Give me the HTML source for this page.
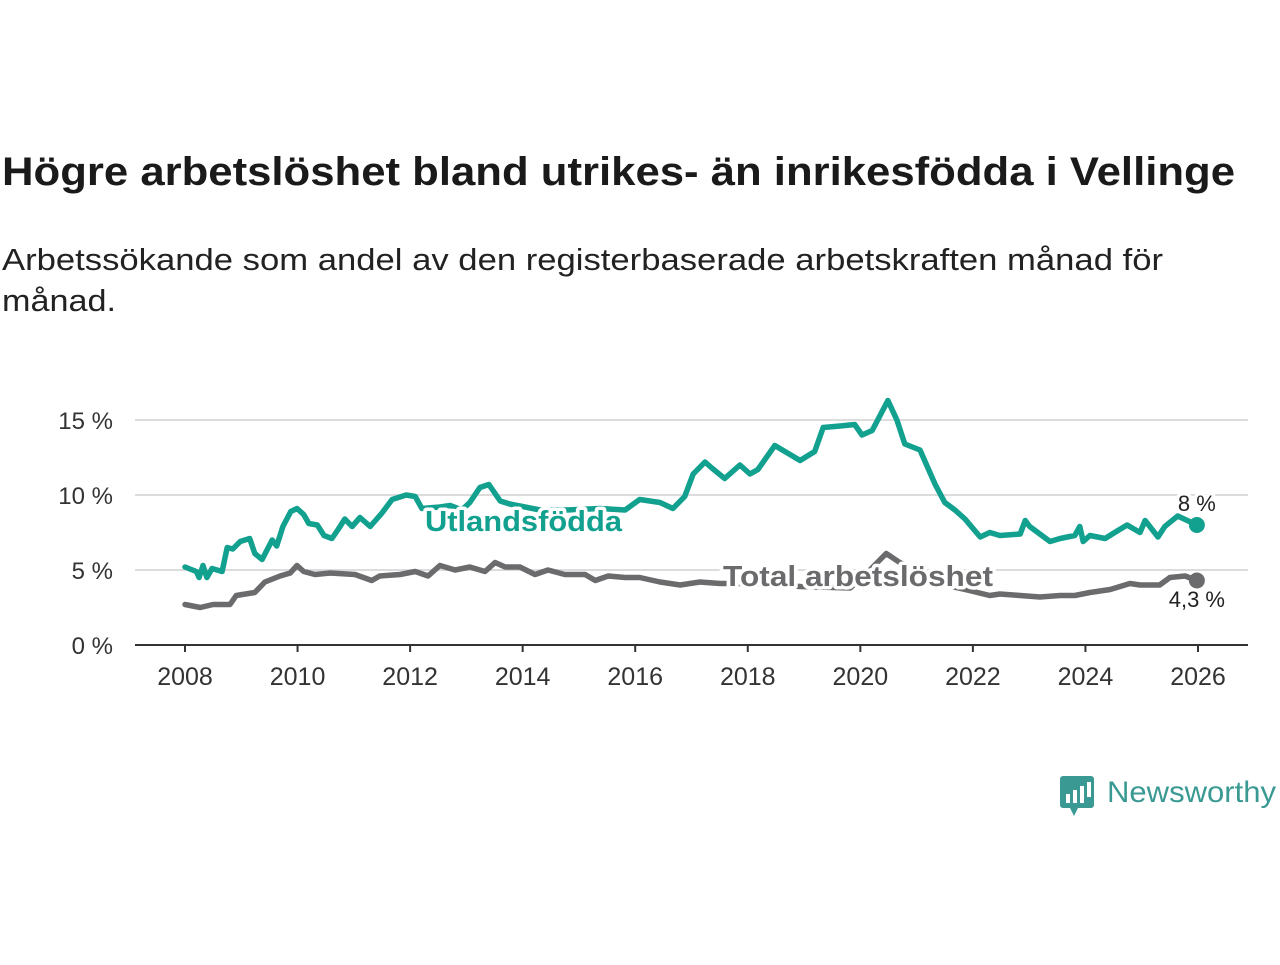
<!DOCTYPE html>
<html><head><meta charset="utf-8"><style>
body{margin:0;background:#fff;width:1280px;height:960px;overflow:hidden;font-family:"Liberation Sans",sans-serif}
</style></head><body>
<svg width="1280" height="960" font-family="Liberation Sans, sans-serif">
<text x="2" y="185" font-size="40" font-weight="bold" fill="#1a1a1a" textLength="1233" lengthAdjust="spacingAndGlyphs">Högre arbetslöshet bland utrikes- än inrikesfödda i Vellinge</text>
<text x="2" y="270" font-size="31" fill="#222" textLength="1161" lengthAdjust="spacingAndGlyphs">Arbetssökande som andel av den registerbaserade arbetskraften månad för</text>
<text x="2" y="311" font-size="31" fill="#222" textLength="114" lengthAdjust="spacingAndGlyphs">månad.</text>
<g id="grid"></g><g id="axes"></g><g id="lines"></g><g id="labels"></g>
<g>
<rect x="1060" y="776" width="34" height="32" rx="3" fill="#3a9a93"/>
<polygon points="1070,808 1078,808 1074,816" fill="#3a9a93"/>
<rect x="1066" y="794" width="4" height="9" fill="#fff"/><rect x="1073" y="790" width="4" height="13" fill="#fff"/><rect x="1080" y="786" width="4" height="17" fill="#fff"/><rect x="1087" y="782" width="4" height="15" fill="#fff"/>
<text x="1107" y="802" font-size="30" fill="#3a9a93" textLength="169" lengthAdjust="spacingAndGlyphs">Newsworthy</text>
</g>
</svg>
<script>
const utlYears=[2008.0,2008.2,2008.25,2008.32,2008.39,2008.48,2008.66,2008.75,2008.85,2008.98,2009.15,2009.24,2009.37,2009.55,2009.63,2009.74,2009.88,2009.99,2010.11,2010.2,2010.35,2010.47,2010.61,2010.72,2010.84,2010.97,2011.11,2011.29,2011.5,2011.68,2011.93,2012.09,2012.21,2012.53,2012.71,2012.92,2013.06,2013.24,2013.4,2013.6,2013.77,2014.31,2014.79,2015.37,2015.82,2016.08,2016.44,2016.67,2016.88,2017.03,2017.24,2017.36,2017.59,2017.86,2018.04,2018.18,2018.48,2018.75,2018.93,2019.19,2019.34,2019.64,2019.9,2020.03,2020.21,2020.49,2020.65,2020.79,2021.06,2021.33,2021.5,2021.68,2021.86,2022.13,2022.3,2022.48,2022.84,2022.93,2023.01,2023.37,2023.55,2023.81,2023.9,2023.96,2024.08,2024.35,2024.52,2024.74,2024.97,2025.06,2025.29,2025.41,2025.64,2025.98];
const utlValues=[5.2,4.9,4.5,5.3,4.5,5.1,4.9,6.5,6.4,6.9,7.1,6.1,5.7,7.0,6.6,7.9,8.9,9.1,8.7,8.1,8.0,7.3,7.1,7.7,8.4,7.9,8.5,7.9,8.8,9.7,10.0,9.9,9.1,9.2,9.3,9.0,9.5,10.5,10.7,9.6,9.4,9.0,9.0,9.1,9.0,9.7,9.5,9.1,9.9,11.4,12.2,11.8,11.1,12.0,11.4,11.7,13.3,12.7,12.3,12.9,14.5,14.6,14.7,14.0,14.3,16.3,15.0,13.4,13.0,10.7,9.5,9.0,8.4,7.2,7.5,7.3,7.4,8.3,7.9,6.9,7.1,7.3,7.9,6.9,7.3,7.1,7.5,8.0,7.5,8.3,7.2,7.9,8.6,8.0];
const totYears=[2008.0,2008.27,2008.5,2008.8,2008.91,2009.24,2009.42,2009.69,2009.87,2009.99,2010.11,2010.31,2010.58,2011.02,2011.32,2011.46,2011.82,2012.09,2012.32,2012.53,2012.8,2013.06,2013.33,2013.51,2013.69,2013.95,2014.22,2014.45,2014.75,2015.11,2015.29,2015.52,2015.82,2016.08,2016.44,2016.8,2017.15,2017.51,2018.04,2018.93,2019.82,2020.17,2020.46,2020.7,2021.06,2021.5,2021.86,2022.3,2022.48,2022.84,2023.19,2023.55,2023.81,2024.08,2024.44,2024.79,2024.97,2025.32,2025.5,2025.77,2025.98];
const totValues=[2.7,2.5,2.7,2.7,3.3,3.5,4.2,4.6,4.8,5.3,4.9,4.7,4.8,4.7,4.3,4.6,4.7,4.9,4.6,5.3,5.0,5.2,4.9,5.5,5.2,5.2,4.7,5.0,4.7,4.7,4.3,4.6,4.5,4.5,4.2,4.0,4.2,4.1,4.1,3.9,3.8,5.0,6.1,5.5,4.8,4.0,3.7,3.3,3.4,3.3,3.2,3.3,3.3,3.5,3.7,4.1,4.0,4.0,4.5,4.6,4.3];
const yTicks=[0,5,10,15];
const yTickLabels=["0 %","5 %","10 %","15 %"];
const xTicks=[2008,2010,2012,2014,2016,2018,2020,2022,2024,2026];
const NS='http://www.w3.org/2000/svg';
const X=y=>185+(y-2008)*(1198-185)/18;
const Y=v=>645-v*15;
function mk(tag,attrs,parent,text){const e=document.createElementNS(NS,tag);for(const k in attrs)e.setAttribute(k,attrs[k]);if(text!=null)e.textContent=text;document.getElementById(parent).appendChild(e);return e;}
yTicks.forEach((t,i)=>{
 if(t>0){const g=mk('line',{x1:135,x2:1248,y1:Y(t),y2:Y(t),stroke:'#dcdcdc','stroke-width':2},'grid');
 
 }
 const l=mk('text',{x:113,y:Y(t)+9,'text-anchor':'end','font-size':24,fill:'#333'},'axes',yTickLabels[i]);
 
 
});
const ax=mk('line',{x1:135,x2:1248,y1:645,y2:645,stroke:'#333','stroke-width':2},'axes');


xTicks.forEach(t=>{
 const tk=mk('line',{x1:X(t),x2:X(t),y1:645,y2:652,stroke:'#333','stroke-width':2},'axes');
 
 
 const l=mk('text',{x:X(t),y:685,'text-anchor':'middle','font-size':25,fill:'#333'},'axes',String(t));
 
 
});
function line(xs,vs,color,name){
 const d=xs.map((x,i)=>(i?'L':'M')+X(x).toFixed(1)+','+Y(vs[i]).toFixed(1)).join('');
 const p=mk('path',{d:d,fill:'none',stroke:color,'stroke-width':5.5,'stroke-linejoin':'round','stroke-linecap':'round'},'lines');
 
 
 const n=xs.length-1;
 const c=mk('circle',{cx:X(xs[n]),cy:Y(vs[n]),r:8,fill:color},'lines');
 
 
}
line(totYears,totValues,'#6b6b6e','total-line');
line(utlYears,utlValues,'#12a08f','utlandsfodda-line');
const halo={stroke:'#fff','stroke-width':7,'paint-order':'stroke','stroke-linejoin':'round'};
function lab(x,y,txt,size,weight,color,anchor,name,len){
 const a=Object.assign({x:x,y:y,'font-size':size,'font-weight':weight,fill:color,'text-anchor':anchor},halo);
 if(len){a.textLength=len;a.lengthAdjust='spacingAndGlyphs';}
 const t=mk('text',a,'labels',txt);
 
 
}
lab(425,531,'Utlandsfödda',29,'bold','#12a08f','start','utlandsfodda-label',197);
lab(723,586,'Total arbetslöshet',29,'bold','#6b6b6e','start','total-label',270);
lab(X(utlYears[utlYears.length-1]),511,'8 %',22,'normal','#222','middle','utlandsfodda-end-value');
lab(X(totYears[totYears.length-1]),607,'4,3 %',22,'normal','#222','middle','total-end-value');
</script>
</body></html>
